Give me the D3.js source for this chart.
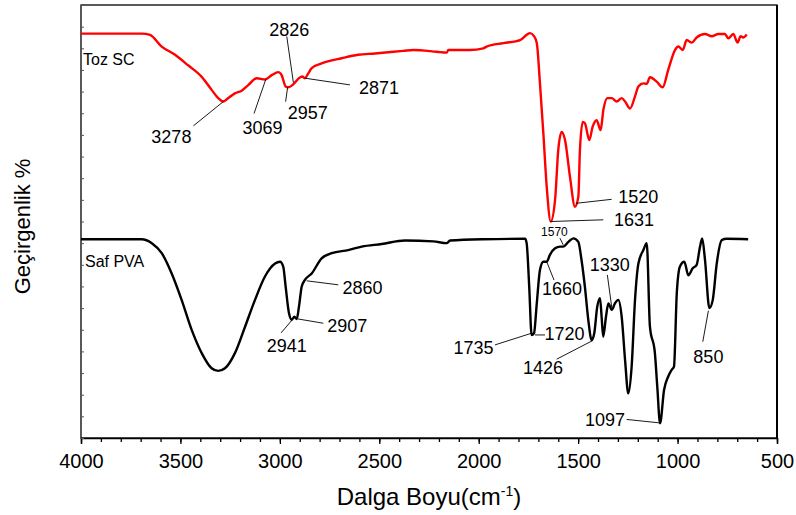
<!DOCTYPE html>
<html><head><meta charset="utf-8">
<script src="https://cdn.jsdelivr.net/npm/d3@7"></script>
<style>body{margin:0;background:#fff}svg{display:block}text{font-family:"Liberation Sans",Arial,sans-serif}</style>
</head><body><svg id="c" width="796" height="515"></svg>
<script>
// Wavenumber (cm-1) and transmittance (arbitrary %, stacked) for each spectrum
const tozWn = [4000,3693,3653,3594,3527,3462,3393,3343,3310,3284,3259,3226,3192,3159,3116,3075,3041,3008,2991,2971,2958,2937,2920,2904,2887,2874,2857,2840,2790,2689,2606,2522,2379,2329,2211,2161,2153,2044,1977,1960,1876,1792,1759,1742,1722,1708,1692,1675,1658,1638,1616,1600,1583,1566,1541,1516,1499,1491,1477,1466,1444,1427,1407,1387,1373,1353,1331,1306,1281,1264,1239,1214,1197,1172,1155,1139,1105,1075,1047,1013,996,974,954,929,904,862,828,795,762,745,720,698,683,670,652];
const tozT = [93.4,93.4,93.1,90.4,88.5,86.1,83.4,80.4,78.5,77.7,78.5,79.6,80.2,81.5,83.1,82.8,83.8,84.5,83.8,81.2,81.0,81.5,82.3,83.1,83.5,83.1,84.2,85.4,86.5,87.7,88.5,88.8,89.4,89.6,89.2,89.0,89.6,89.6,90.0,90.4,91.2,91.9,93.1,93.5,92.8,91.2,81.9,70.4,58.0,50.0,55.0,66.5,70.7,68.8,60.3,53.4,55.7,66.5,73.0,72.7,68.8,71.9,73.4,71.1,75.8,78.5,78.5,77.7,78.5,77.7,76.1,78.9,81.2,81.9,81.8,83.3,82.3,81.0,85.0,89.6,90.4,89.6,91.9,91.3,92.5,93.3,92.8,93.3,93.3,92.3,93.3,91.3,92.8,92.5,93.2];
const pvaWn = [4000,3695,3644,3594,3544,3494,3443,3393,3343,3310,3276,3226,3175,3125,3075,3024,2999,2983,2971,2954,2940,2927,2915,2904,2890,2874,2840,2790,2739,2656,2588,2488,2371,2228,2161,2144,1977,1767,1759,1746,1734,1722,1708,1692,1675,1658,1642,1616,1591,1575,1549,1524,1499,1483,1466,1449,1432,1419,1404,1390,1382,1374,1360,1348,1331,1315,1298,1281,1264,1248,1231,1214,1197,1172,1155,1139,1114,1102,1088,1068,1047,1030,1018,1004,988,966,946,924,904,887,876,862,840,823,803,778,753,645];
const pvaT = [45.9,45.9,45.0,42.7,38.0,31.9,24.9,19.6,16.1,15.5,16.1,19.6,25.7,31.9,37.3,40.3,40.7,39.6,35.0,28.8,27.3,28.0,27.5,30.3,35.0,36.5,38.0,41.5,42.7,43.4,44.2,44.8,45.6,45.4,45.0,45.6,45.9,46.0,45.0,34.9,23.8,24.2,31.1,38.8,40.7,40.7,42.3,43.8,44.2,44.2,45.3,46.1,45.3,41.1,34.9,27.3,22.6,24.2,30.3,32.3,28.0,23.4,28.0,31.1,29.6,31.1,31.9,28.0,18.0,10.3,16.5,31.9,40.3,43.4,45.0,25.7,19.6,11.8,3.4,11.1,14.2,15.7,16.5,33.4,39.6,40.7,37.6,39.2,40.0,44.2,46.1,41.1,30.0,31.9,40.3,45.7,46.0,45.9];
const seriesNames = ["Toz SC","Saf PVA"];
const seriesColors = ["#ff0000","#000000"];
const xTicks = [4000,3500,3000,2500,2000,1500,1000,500];
const xLabel = "Dalga Boyu(cm";
const yLabel = "Geçirgenlik %";
// Peak annotations: label, series index, wavenumber and transmittance of the marked point
const annText = ["3278","3069","2957","2826","2871","1631","1520","1570","2941","2907","2860","1660","1735","1720","1426","1330","1097","850"];
const annSeries = [0,0,0,0,0,0,0,1,1,1,1,1,1,1,1,1,1,1];
const annWn = [3284,3071,2961,2932,2874,1638,1511,1575,2932,2910,2865,1658,1734,1717,1427,1331,1092,845];
const annT = [77.7,82.8,81.0,82.1,83.1,50.0,54.2,44.6,27.6,27.5,36.3,40.7,24.2,23.8,22.5,30.2,3.5,29.4];

// layout for annotation leader lines / text (pixel offsets from marked point)
const annLayout = [
 {lx:-30,ly:24.3,tx:-52,ty:41.3},{lx:-11.7,ly:34,tx:-3.2,ty:54.7},{lx:-2,ly:14.4,tx:20.1,ty:31.7},
 {lx:-6.6,ly:-46,tx:-4.1,ty:-46.7},{lx:45,ly:6.7,tx:74,ty:15.7},{lx:52.6,ly:-1.7,tx:83.3,ty:4},
 {lx:35.7,ly:-4,tx:62.3,ty:-0.6},{lx:-3.3,ly:-6.7,tx:-8.8,ty:-9,small:true},{lx:-12.3,ly:14.4,tx:-6.6,ty:33.4},
 {lx:25.6,ly:4.3,tx:49.5,ty:12.7},{lx:31.6,ly:4,tx:55.8,ty:13},{lx:7.3,ly:18.3,tx:15.3,ty:33.3},
 {lx:-36.7,ly:11.7,tx:-58,ty:20.7},{lx:10,ly:0,tx:29.5,ty:5},{lx:-36,ly:18.6,tx:-49.7,ty:33.3},
 {lx:-4.4,ly:-32.3,tx:-2,ty:-36.6},{lx:-32.6,ly:-3.4,tx:-54.3,ty:3},{lx:-5.6,ly:31,tx:0,ty:52}
];

const W=796,H=515, m={l:81,r:19,t:5,b:77};
const svg=d3.select("#c");
const x=d3.scaleLinear().domain([4000,500]).range([m.l,W-m.r]);
const y=d3.scaleLinear().domain([0,100]).range([H-m.b,m.t]);

// frame
svg.append("rect").attr("x",m.l).attr("y",m.t).attr("width",W-m.r-m.l).attr("height",H-m.b-m.t)
  .attr("fill","none").attr("stroke","#000").attr("stroke-width",1.3);
svg.append("line").attr("x1",W-m.r).attr("x2",W-m.r).attr("y1",m.t).attr("y2",H-m.b).attr("stroke","#000").attr("stroke-width",2);

// x axis
const xg=svg.append("g").attr("transform",`translate(0,${H-m.b})`);
xg.call(d3.axisBottom(x).tickValues(d3.range(4000,499,-100)).tickSize(4).tickFormat(""))
  .call(g=>g.select(".domain").remove()).selectAll("line").attr("stroke-width",1.3);
xg.append("g").call(d3.axisBottom(x).tickValues(xTicks).tickSize(6).tickPadding(10).tickFormat(d3.format("d")))
  .call(g=>g.select(".domain").attr("stroke-width",1.3))
  .call(g=>g.selectAll("line").attr("stroke-width",1.3))
  .call(g=>g.selectAll("text").attr("font-size",20).attr("fill","#000").attr("font-family","Liberation Sans, Arial"));

// y axis minor ticks (inward)
const yg=svg.append("g").attr("transform",`translate(${m.l},0)`);
yg.call(d3.axisRight(y).tickValues(d3.range(0,100.1,5)).tickSize(3).tickFormat(""))
  .call(g=>g.select(".domain").remove()).selectAll("line").attr("stroke","#555");

// lines
const line=d3.line().x(d=>x(d[0])).y(d=>y(d[1])).curve(d3.curveMonotoneX);
const series=[d3.zip(tozWn,tozT), d3.zip(pvaWn,pvaT)];
series.forEach((s,i)=>{
  svg.append("path").datum(s).attr("d",line).attr("fill","none")
    .attr("stroke",seriesColors[i]).attr("stroke-width",2.4).attr("stroke-linejoin","round");
});

// series labels
function defaultY(i){ return i===0 ? 86.2 : 39.6; }
svg.append("text").attr("x",x(3990)).attr("y",y(defaultY(0))).text(seriesNames[0]).attr("font-size",16);
svg.append("text").attr("x",x(3980)).attr("y",y(defaultY(1))).text(seriesNames[1]).attr("font-size",16);

// annotations
annText.forEach((t,i)=>{
  const px=x(annWn[i]), py=y(annT[i]), L=annLayout[i];
  svg.append("line").attr("x1",px).attr("y1",py).attr("x2",px+L.lx).attr("y2",py+L.ly)
    .attr("stroke","#000").attr("stroke-width",0.9);
  svg.append("text").attr("x",px+L.tx).attr("y",py+L.ty).attr("text-anchor","middle")
    .attr("font-size",L.small?12:18).text(t);
});

// axis titles
const xt=svg.append("text").attr("x",(m.l+W-m.r)/2).attr("y",505).attr("text-anchor","middle").attr("font-size",24);
xt.append("tspan").text(xLabel);
xt.append("tspan").attr("dy",-9).attr("font-size",14).text("-1");
xt.append("tspan").attr("dy",9).text(")");
svg.append("text").attr("transform",`translate(30,${(m.t+H-m.b)/2+5}) rotate(-90)`).attr("text-anchor","middle")
  .attr("font-size",22).text(yLabel);
</script></body></html>
